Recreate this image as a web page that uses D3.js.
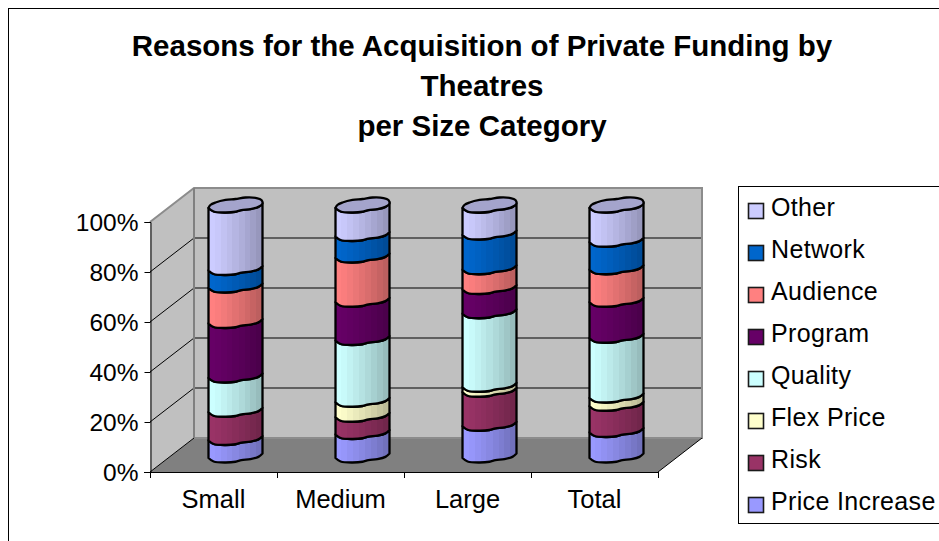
<!DOCTYPE html>
<html>
<head>
<meta charset="utf-8">
<script src="https://cdnjs.cloudflare.com/ajax/libs/d3/7.8.5/d3.min.js"></script>
<style>
html,body{margin:0;padding:0;background:#fff;overflow:hidden}
svg{display:block}
text{font-family:"Liberation Sans",Arial,sans-serif;fill:#000}
</style>
</head>
<body>
<svg id="chart" width="939" height="541"></svg>
<script>
// Chart data: percentage share of each reason per theatre size
const categories = ["Small", "Medium", "Large", "Total"];
const priceIncrease = [7, 9.4, 12.7, 10.2];
const risk = [11.3, 6.9, 13.6, 10.5];
const flexPrice = [0, 6, 2, 3.3];
const quality = [13.7, 24.7, 29.4, 23.9];
const program = [21.8, 15.3, 9.7, 14.4];
const audience = [14.2, 17.7, 7.9, 13];
const network = [7, 8.6, 13.9, 11];
const other = [25, 11.4, 10.7, 13.7];

const seriesNames = ["Price Increase", "Risk", "Flex Price", "Quality", "Program", "Audience", "Network", "Other"];
const seriesValues = [priceIncrease, risk, flexPrice, quality, program, audience, network, other];
const seriesColors = ["#9999FF", "#993366", "#FFFFCC", "#CCFFFF", "#660066", "#FF8080", "#0066CC", "#CCCCFF"];
const yTicks = [0, 20, 40, 60, 80, 100];
const titleLines = ["Reasons for the Acquisition of Private Funding by", "Theatres", "per Size Category"];

const svg = d3.select("#chart");

// Oblique projection of the 3D box
const depthX = 44, depthY = -34;
const x = d3.scaleBand().domain(categories).range([150, 658]);
const y = d3.scaleLinear().domain([0, 100]).range([472, 222]);
const x0 = x.range()[0], x1 = x.range()[1];
const y0 = y(0), y100 = y(100);

// Outer chart frame runs past the right and bottom of the page
svg.append("rect").attr("x", 8.5).attr("y", 8.5).attr("width", 1000).attr("height", 1000)
  .attr("fill", "#fff").attr("stroke", "#000").attr("stroke-width", 1);

// Title
svg.append("g").selectAll("text").data(titleLines).join("text")
  .attr("x", 482).attr("y", (d, i) => 56 + i * 40)
  .attr("text-anchor", "middle")
  .attr("font-size", 29.5).attr("font-weight", "bold")
  .text(d => d);

// Walls and floor
const poly = pts => d3.line()(pts) + "Z";
const walls = svg.append("g");
walls.append("path")
  .attr("d", poly([[x0 + depthX, y100 + depthY], [x1 + depthX, y100 + depthY], [x1 + depthX, y0 + depthY], [x0 + depthX, y0 + depthY]]))
  .attr("fill", "#C0C0C0");
walls.append("path")
  .attr("d", poly([[x0, y100], [x0 + depthX, y100 + depthY], [x0 + depthX, y0 + depthY], [x0, y0]]))
  .attr("fill", "#C0C0C0");
walls.append("path")
  .attr("d", poly([[x0, y0], [x0 + depthX, y0 + depthY], [x1 + depthX, y0 + depthY], [x1, y0]]))
  .attr("fill", "#808080");

// Gridlines across the back and side walls
const grid = svg.append("g").attr("fill", "none").attr("stroke", "#000").attr("stroke-width", 1);
grid.selectAll("path").data(yTicks.slice(1, -1).concat(0)).join("path")
  .attr("d", d => d3.line()([[x0, y(d)], [x0 + depthX, y(d) + depthY], ...(d === 0 ? [] : [[x1 + depthX, y(d) + depthY]])]));

// Grey wall edges
svg.append("path")
  .attr("d", d3.line()([[x0, y100], [x0 + depthX, y100 + depthY], [x1 + depthX, y100 + depthY], [x1 + depthX, y0 + depthY], [x0 + depthX, y0 + depthY]]))
  .attr("fill", "none").attr("stroke", "#8c8c8c").attr("stroke-width", 2);
svg.append("path")
  .attr("d", d3.line()([[x0 + depthX, y100 + depthY], [x0 + depthX, y0 + depthY]]))
  .attr("fill", "none").attr("stroke", "#808080").attr("stroke-width", 2);
svg.append("path")
  .attr("d", d3.line()([[x1, y0], [x1 + depthX, y0 + depthY]]))
  .attr("fill", "none").attr("stroke", "#000").attr("stroke-width", 1);

// Value axis
const yAxis = svg.append("g").attr("transform", `translate(${x0 + 0.5},0)`)
  .call(d3.axisLeft(y).tickValues(yTicks).tickSize(6).tickPadding(6).tickFormat(d => d + "%"));
yAxis.select(".domain").attr("stroke", "#000");
yAxis.selectAll("text").attr("font-size", 24.5).attr("font-family", null).attr("dy", "0.33em");

// Category axis: ticks sit on the band edges, labels in the band middles
const bandEdges = categories.map(c => x(c)).concat(x1);
svg.append("line").attr("x1", x0 - 6).attr("x2", x1).attr("y1", y0 + 0.5).attr("y2", y0 + 0.5).attr("stroke", "#000");
svg.append("g").selectAll("line").data(bandEdges).join("line")
  .attr("x1", d => d + 0.5).attr("x2", d => d + 0.5)
  .attr("y1", y0).attr("y2", y0 + 6).attr("stroke", "#000");
svg.append("g").selectAll("text").data(categories).join("text")
  .attr("x", d => x(d) + x.bandwidth() / 2)
  .attr("y", y0 + 36)
  .attr("text-anchor", "middle").attr("font-size", 25.5)
  .text(d => d);

// Faceted shading for the round sides: bands darken from left to right
const defs = svg.append("defs");
const facetCount = 9;
seriesColors.forEach((color, i) => {
  const shade = d3.interpolateRgb(color, d3.rgb(color).darker(0.85));
  const grad = defs.append("linearGradient").attr("id", "facet" + i);
  d3.range(facetCount).forEach(k => {
    const c = shade(Math.pow(k / (facetCount - 1), 1.2));
    grad.append("stop").attr("offset", k / facetCount).attr("stop-color", c);
    grad.append("stop").attr("offset", (k + 1) / facetCount).attr("stop-color", c);
  });
});

// Rim outline of the low-polygon column, in units of half-width and half-depth
const frontRim = [[-1, .4], [-.81, .87], [-.37, 1], [0, .9], [.22, .68], [.55, .55], [.85, .25], [1, -.2]];
const backRim = [[.96, -.67], [.78, -.93], [.37, -1], [0, -.8], [-.37, -.67], [-.74, -.33], [-.93, 0]];
const halfWidth = x.bandwidth() * 0.2126;
const halfDepth = 7.5;

const stacked = d3.stack().keys(d3.range(seriesNames.length))
  .value((row, key) => seriesValues[key][row])(d3.range(categories.length));

const rimPoints = (rim, cx, v) => rim.map(([u, w]) => [cx + u * halfWidth, y(v) + depthY / 2 + w * halfDepth]);
const columnCentre = c => x(c) + x.bandwidth() / 2 + depthX / 2;
const rimLine = d3.line().curve(d3.curveCatmullRom.alpha(0.5));

const columns = svg.append("g")
  .attr("stroke", "#000").attr("stroke-width", 2.3).attr("stroke-linejoin", "round");

categories.forEach((cat, c) => {
  const cx = columnCentre(cat);
  const group = columns.append("g");
  stacked.forEach((layer, s) => {
    const [low, high] = layer[c];
    if (high - low <= 0) return;
    const top = rimLine(rimPoints(frontRim, cx, high));
    const bottom = rimLine(rimPoints(frontRim.slice().reverse(), cx, low));
    group.append("path")
      .attr("d", top + "L" + bottom.slice(1) + "Z")
      .attr("fill", `url(#facet${s})`);
  });
  // Top cap of the column
  const capRim = frontRim.concat(backRim, [frontRim[0]]);
  const capColor = d3.rgb(seriesColors[seriesColors.length - 1]).darker(0.62);
  group.append("path")
    .attr("d", rimLine(rimPoints(capRim, cx, 100)) + "Z")
    .attr("fill", capColor);
});

// Legend box runs off the right side of the page
const legendNames = seriesNames.slice().reverse();
const legendColors = seriesColors.slice().reverse();
svg.append("rect").attr("x", 738.5).attr("y", 186.5).attr("width", 400).attr("height", 337)
  .attr("fill", "#fff").attr("stroke", "#000").attr("stroke-width", 1);
const item = svg.append("g").selectAll("g").data(legendNames).join("g")
  .attr("transform", (d, i) => `translate(0,${i * 42})`);
item.append("rect")
  .attr("x", 748.5).attr("y", 203.5).attr("width", 15).attr("height", 15)
  .attr("fill", (d, i) => legendColors[i])
  .attr("stroke", "#1a1a1a").attr("stroke-width", 1.6);
item.append("text")
  .attr("x", 771).attr("y", 216)
  .attr("font-size", 25).attr("letter-spacing", 0.35)
  .text(d => d);
</script>
</body>
</html>
